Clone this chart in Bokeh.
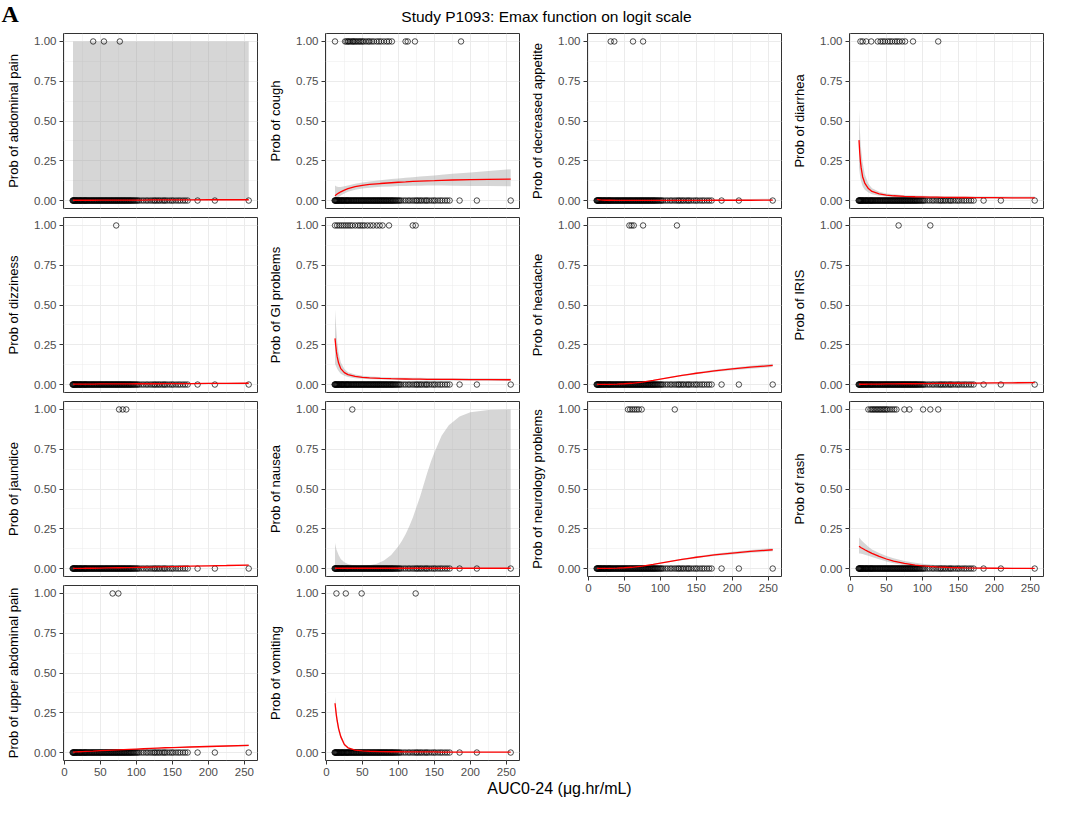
from bokeh.plotting import figure
from bokeh.layouts import row, column
from bokeh.models import Range1d, FixedTicker, Label, PrintfTickFormatter
from bokeh.embed import file_html
from bokeh.resources import INLINE

FONT = "Liberation Sans"

# ---------------- data ----------------
TITLE = "Study P1093: Emax function on logit scale"
XLABEL = "AUC0-24 (\u03bcg.hr/mL)"

X_TICKS = [0, 50, 100, 150, 200, 250]
X_MINOR = [25, 75, 125, 175, 225]
Y_TICKS = [0, 0.25, 0.5, 0.75, 1.0]
Y_MINOR = [0.125, 0.375, 0.625, 0.875]

# AUC of all subjects (observed 0 / 1 outcome plotted at these exposures)
AUC_ALL = [11.5, 12, 12.6, 13.1, 13.9, 14.5, 15.2, 16.0, 16.8, 17.5, 18.1, 19.0, 20.2, 21.0,
           21.6, 22.4, 23.3, 24.1, 25.0, 26.2, 27.0, 27.9, 28.6, 29.4, 30.3, 31.1, 32.0, 33.2,
           34.0, 35.1, 36.0, 37.2, 38.1, 39.0, 40.2, 41.0, 42.1, 43.0, 44.2, 45.1, 46.0, 47.3,
           48.1, 49.0, 50.2, 51.1, 52.0, 53.2, 54.0, 55.1, 56.3, 57.0, 58.2, 59.1, 60.0, 61.2,
           62.1, 63.0, 64.3, 65.1, 66.0, 67.2, 68.1, 69.0, 70.3, 71.1, 72.0, 73.2, 74.1, 75.0,
           76.2, 77.1, 78.0, 79.3, 80.1, 81.0, 82.4, 83.2, 84.0, 85.3, 86.1, 87.4, 88.2, 89.5,
           90.3, 91.6, 92.4, 93.7, 95.0, 96.2, 97.5, 99.0, 100.5, 102.0, 104.1, 107.3, 110.2,
           113.5, 116.0, 119.2, 122.0, 124.5, 126.3, 128.7, 131.0, 133.2, 136.1, 138.4, 140.2,
           143.0, 146.3, 149.1, 151.4, 155.0, 158.2, 161.0, 164.6, 167.8, 171.2, 185.0, 209.0,
           256.0]

# fitted curve evaluation points
X_FIT = [12, 13, 14, 15, 17, 20, 25, 30, 40, 50, 60, 75, 90, 100, 110, 120, 130, 140, 150,
         160, 175, 200, 225, 256]

# panel 1: abdominal pain
EV_ABD = [40, 55, 77]
FIT_ABD = [0.002, 0.002, 0.002, 0.002, 0.002, 0.002, 0.002, 0.002, 0.002, 0.003, 0.003, 0.003,
           0.003, 0.003, 0.003, 0.004, 0.004, 0.004, 0.004, 0.004, 0.004, 0.005, 0.005, 0.005]
LO_ABD = [0.0] * 24
HI_ABD = [1.0] * 24

# panel 2: cough
EV_COUGH = [12, 26, 28, 30, 31, 33, 35, 37, 38, 40, 42, 44, 46, 48, 50, 52, 55, 58, 60, 63, 66,
            70, 73, 76, 80, 84, 87, 91, 110, 113, 123, 187]
FIT_COUGH = [0.030, 0.034, 0.038, 0.041, 0.047, 0.055, 0.066, 0.075, 0.087, 0.095, 0.101, 0.107,
             0.112, 0.115, 0.117, 0.120, 0.122, 0.124, 0.125, 0.127, 0.129, 0.131, 0.133, 0.135]
LO_COUGH = [0.005, 0.008, 0.012, 0.016, 0.022, 0.032, 0.045, 0.055, 0.068, 0.076, 0.081, 0.086,
            0.089, 0.091, 0.092, 0.093, 0.093, 0.094, 0.094, 0.094, 0.093, 0.092, 0.091, 0.090]
HI_COUGH = [0.095, 0.092, 0.089, 0.087, 0.085, 0.085, 0.090, 0.095, 0.105, 0.113, 0.120, 0.128,
            0.135, 0.139, 0.143, 0.147, 0.151, 0.155, 0.158, 0.162, 0.168, 0.177, 0.186, 0.197]

# panel 3: decreased appetite
EV_APP = [31, 36, 62, 76]
FIT_APP = [0.008, 0.007, 0.006, 0.005, 0.004, 0.003, 0.002, 0.002, 0.001, 0.001, 0.001, 0.001,
           0.001, 0.001, 0.001, 0.001, 0.001, 0.001, 0.001, 0.001, 0.002, 0.002, 0.002, 0.003]
LO_APP = [0.0] * 24
HI_APP = [0.016, 0.014, 0.012, 0.010, 0.008, 0.007, 0.005, 0.004, 0.003, 0.003, 0.003, 0.003,
          0.003, 0.003, 0.004, 0.004, 0.004, 0.005, 0.005, 0.006, 0.007, 0.008, 0.010, 0.012]

# panel 4: diarrhea
EV_DIA = [14, 17, 22, 29, 38, 42, 45, 48, 52, 55, 58, 62, 65, 68, 72, 76, 87, 122]
FIT_DIA = [0.380, 0.300, 0.245, 0.205, 0.150, 0.110, 0.075, 0.057, 0.042, 0.034, 0.030, 0.026,
           0.024, 0.023, 0.022, 0.021, 0.020, 0.020, 0.019, 0.019, 0.018, 0.018, 0.017, 0.017]
LO_DIA = [0.210, 0.170, 0.140, 0.120, 0.090, 0.068, 0.050, 0.040, 0.030, 0.025, 0.022, 0.019,
          0.017, 0.016, 0.015, 0.015, 0.014, 0.014, 0.013, 0.013, 0.012, 0.012, 0.011, 0.011]
HI_DIA = [0.575, 0.460, 0.380, 0.320, 0.240, 0.165, 0.105, 0.078, 0.056, 0.045, 0.040, 0.034,
          0.031, 0.030, 0.029, 0.028, 0.027, 0.027, 0.026, 0.026, 0.025, 0.025, 0.025, 0.025]

# panel 5: dizziness
EV_DIZ = [72]
FIT_DIZ = [0.003, 0.003, 0.003, 0.003, 0.003, 0.003, 0.003, 0.003, 0.003, 0.004, 0.004, 0.004,
           0.004, 0.005, 0.005, 0.005, 0.005, 0.006, 0.006, 0.006, 0.006, 0.007, 0.007, 0.008]
LO_DIZ = [0.001, 0.001, 0.001, 0.001, 0.001, 0.001, 0.001, 0.001, 0.001, 0.002, 0.002, 0.002,
          0.002, 0.002, 0.002, 0.002, 0.002, 0.003, 0.003, 0.003, 0.003, 0.003, 0.003, 0.003]
HI_DIZ = [0.006, 0.006, 0.006, 0.006, 0.006, 0.006, 0.006, 0.006, 0.006, 0.007, 0.007, 0.007,
          0.007, 0.008, 0.008, 0.008, 0.008, 0.009, 0.009, 0.010, 0.010, 0.011, 0.012, 0.013]

# panel 6: GI problems
EV_GI = [12, 15, 18, 21, 24, 27, 30, 33, 36, 40, 44, 47, 50, 53, 57, 61, 65, 70, 74, 78, 87,
         120, 124]
FIT_GI = [0.290, 0.245, 0.205, 0.175, 0.135, 0.100, 0.075, 0.062, 0.051, 0.045, 0.042, 0.039,
          0.037, 0.036, 0.035, 0.034, 0.034, 0.033, 0.033, 0.032, 0.032, 0.031, 0.031, 0.030]
LO_GI = [0.130, 0.120, 0.110, 0.100, 0.085, 0.068, 0.055, 0.048, 0.040, 0.036, 0.034, 0.032,
         0.030, 0.029, 0.028, 0.027, 0.027, 0.026, 0.026, 0.025, 0.025, 0.024, 0.024, 0.023]
HI_GI = [0.470, 0.400, 0.330, 0.270, 0.200, 0.140, 0.098, 0.078, 0.063, 0.055, 0.051, 0.047,
         0.045, 0.044, 0.043, 0.042, 0.042, 0.041, 0.041, 0.040, 0.040, 0.039, 0.039, 0.038]

# panel 7: headache
EV_HEAD = [57, 60, 63, 76, 123]
FIT_HEAD = [0.0005, 0.0005, 0.0005, 0.0005, 0.0006, 0.0007, 0.001, 0.0015, 0.003, 0.005, 0.008,
            0.015, 0.026, 0.034, 0.042, 0.050, 0.057, 0.064, 0.071, 0.077, 0.086, 0.098, 0.109,
            0.120]
LO_HEAD = [0.0, 0.0, 0.0, 0.0, 0.0, 0.0, 0.0, 0.001, 0.002, 0.004, 0.007, 0.013, 0.023, 0.031,
           0.038, 0.046, 0.052, 0.059, 0.065, 0.071, 0.079, 0.090, 0.100, 0.110]
HI_HEAD = [0.001, 0.001, 0.001, 0.001, 0.001, 0.001, 0.002, 0.002, 0.004, 0.006, 0.009, 0.017,
           0.029, 0.037, 0.046, 0.054, 0.062, 0.069, 0.077, 0.083, 0.093, 0.106, 0.118, 0.130]

# panel 8: IRIS
EV_IRIS = [67, 111]
FIT_IRIS = [0.002, 0.002, 0.002, 0.002, 0.002, 0.002, 0.003, 0.003, 0.003, 0.004, 0.004, 0.005,
            0.005, 0.006, 0.006, 0.007, 0.007, 0.008, 0.008, 0.009, 0.009, 0.010, 0.011, 0.012]
LO_IRIS = [0.001, 0.001, 0.001, 0.001, 0.001, 0.001, 0.001, 0.001, 0.001, 0.002, 0.002, 0.002,
           0.002, 0.003, 0.003, 0.003, 0.003, 0.004, 0.004, 0.004, 0.004, 0.005, 0.005, 0.006]
HI_IRIS = [0.004, 0.004, 0.004, 0.004, 0.004, 0.004, 0.005, 0.005, 0.005, 0.006, 0.006, 0.007,
           0.008, 0.009, 0.009, 0.010, 0.011, 0.012, 0.012, 0.013, 0.014, 0.015, 0.017, 0.019]

# panel 9: jaundice
EV_JAU = [76, 81, 86]
FIT_JAU = [0.001, 0.001, 0.001, 0.001, 0.001, 0.001, 0.001, 0.002, 0.002, 0.003, 0.004, 0.005,
           0.006, 0.007, 0.008, 0.009, 0.010, 0.011, 0.012, 0.013, 0.015, 0.017, 0.019, 0.022]
LO_JAU = [0.0, 0.0, 0.0, 0.0, 0.0, 0.0, 0.0, 0.001, 0.001, 0.002, 0.003, 0.004, 0.005, 0.006,
          0.007, 0.008, 0.009, 0.010, 0.011, 0.012, 0.013, 0.015, 0.017, 0.019]
HI_JAU = [0.002, 0.002, 0.002, 0.002, 0.002, 0.002, 0.002, 0.003, 0.003, 0.004, 0.005, 0.006,
          0.007, 0.008, 0.009, 0.010, 0.011, 0.012, 0.013, 0.014, 0.017, 0.019, 0.021, 0.025]

# panel 10: nausea (own evaluation grid for the wide band)
X_NAU = [12, 14, 17, 20, 25, 30, 40, 50, 60, 70, 80, 90, 100, 105, 110, 115, 120, 125, 130, 135,
         140, 145, 150, 160, 170, 185, 200, 225, 256]
EV_NAU = [36]
FIT_NAU = [0.002] * 29
LO_NAU = [0.0] * 29
HI_NAU = [0.160, 0.120, 0.085, 0.060, 0.040, 0.028, 0.018, 0.016, 0.020, 0.030, 0.050, 0.085,
          0.140, 0.175, 0.215, 0.265, 0.320, 0.385, 0.450, 0.525, 0.600, 0.670, 0.730, 0.835,
          0.900, 0.955, 0.982, 0.996, 1.000]

# panel 11: neurology problems
EV_NEU = [55, 58, 61, 64, 67, 70, 74, 120]
FIT_NEU = [0.0005, 0.0005, 0.0005, 0.0005, 0.0006, 0.0007, 0.001, 0.0015, 0.003, 0.005, 0.008,
           0.015, 0.026, 0.034, 0.042, 0.050, 0.057, 0.064, 0.071, 0.077, 0.086, 0.097, 0.108,
           0.118]
LO_NEU = [0.0, 0.0, 0.0, 0.0, 0.0, 0.0, 0.0, 0.001, 0.002, 0.004, 0.007, 0.013, 0.023, 0.031,
          0.038, 0.046, 0.052, 0.059, 0.065, 0.071, 0.079, 0.089, 0.099, 0.108]
HI_NEU = [0.001, 0.001, 0.001, 0.001, 0.001, 0.001, 0.002, 0.002, 0.004, 0.006, 0.009, 0.017,
          0.029, 0.037, 0.046, 0.054, 0.062, 0.069, 0.077, 0.083, 0.093, 0.105, 0.117, 0.128]

# panel 12: rash
EV_RASH = [25, 28, 30, 32, 34, 36, 38, 40, 42, 44, 46, 48, 50, 52, 55, 58, 61, 64, 75, 82, 101,
           111, 122]
FIT_RASH = [0.140, 0.137, 0.134, 0.131, 0.126, 0.118, 0.106, 0.095, 0.076, 0.060, 0.047, 0.033,
            0.022, 0.017, 0.013, 0.010, 0.008, 0.006, 0.005, 0.004, 0.003, 0.002, 0.001, 0.001]
LO_RASH = [0.095, 0.095, 0.094, 0.093, 0.091, 0.087, 0.080, 0.073, 0.058, 0.044, 0.033, 0.021,
           0.012, 0.008, 0.005, 0.004, 0.003, 0.002, 0.001, 0.001, 0.0, 0.0, 0.0, 0.0]
HI_RASH = [0.195, 0.190, 0.185, 0.180, 0.170, 0.157, 0.137, 0.120, 0.097, 0.079, 0.064, 0.048,
           0.036, 0.030, 0.025, 0.021, 0.018, 0.015, 0.013, 0.011, 0.009, 0.007, 0.005, 0.004]

# panel 13: upper abdominal pain
EV_UAP = [67, 75]
FIT_UAP = [0.003, 0.003, 0.003, 0.004, 0.004, 0.005, 0.006, 0.007, 0.009, 0.012, 0.014, 0.017,
           0.020, 0.022, 0.024, 0.026, 0.028, 0.030, 0.031, 0.033, 0.035, 0.038, 0.041, 0.045]
LO_UAP = [0.002, 0.002, 0.002, 0.003, 0.003, 0.004, 0.005, 0.006, 0.008, 0.010, 0.012, 0.015,
          0.018, 0.020, 0.022, 0.024, 0.025, 0.027, 0.028, 0.030, 0.031, 0.034, 0.037, 0.040]
HI_UAP = [0.004, 0.004, 0.004, 0.005, 0.005, 0.006, 0.007, 0.008, 0.010, 0.014, 0.016, 0.019,
          0.022, 0.024, 0.026, 0.028, 0.031, 0.033, 0.034, 0.036, 0.039, 0.042, 0.045, 0.050]

# panel 14: vomiting
EV_VOM = [14, 27, 49, 124]
FIT_VOM = [0.310, 0.270, 0.230, 0.200, 0.150, 0.100, 0.050, 0.030, 0.015, 0.010, 0.008, 0.006,
           0.005, 0.005, 0.004, 0.004, 0.004, 0.004, 0.004, 0.003, 0.003, 0.003, 0.003, 0.003]
LO_VOM = [0.270, 0.235, 0.200, 0.172, 0.128, 0.085, 0.042, 0.025, 0.012, 0.008, 0.006, 0.004,
          0.004, 0.004, 0.003, 0.003, 0.003, 0.003, 0.003, 0.002, 0.002, 0.002, 0.002, 0.002]
HI_VOM = [0.350, 0.305, 0.260, 0.228, 0.172, 0.115, 0.058, 0.035, 0.018, 0.012, 0.010, 0.008,
          0.007, 0.006, 0.006, 0.005, 0.005, 0.005, 0.005, 0.005, 0.005, 0.005, 0.005, 0.005]

PANELS = [
    ("abdominal pain", EV_ABD, X_FIT, FIT_ABD, LO_ABD, HI_ABD),
    ("cough", EV_COUGH, X_FIT, FIT_COUGH, LO_COUGH, HI_COUGH),
    ("decreased appetite", EV_APP, X_FIT, FIT_APP, LO_APP, HI_APP),
    ("diarrhea", EV_DIA, X_FIT, FIT_DIA, LO_DIA, HI_DIA),
    ("dizziness", EV_DIZ, X_FIT, FIT_DIZ, LO_DIZ, HI_DIZ),
    ("GI problems", EV_GI, X_FIT, FIT_GI, LO_GI, HI_GI),
    ("headache", EV_HEAD, X_FIT, FIT_HEAD, LO_HEAD, HI_HEAD),
    ("IRIS", EV_IRIS, X_FIT, FIT_IRIS, LO_IRIS, HI_IRIS),
    ("jaundice", EV_JAU, X_FIT, FIT_JAU, LO_JAU, HI_JAU),
    ("nausea", EV_NAU, X_NAU, FIT_NAU, LO_NAU, HI_NAU),
    ("neurology problems", EV_NEU, X_FIT, FIT_NEU, LO_NEU, HI_NEU),
    ("rash", EV_RASH, X_FIT, FIT_RASH, LO_RASH, HI_RASH),
    ("upper abdominal pain", EV_UAP, X_FIT, FIT_UAP, LO_UAP, HI_UAP),
    ("vomiting", EV_VOM, X_FIT, FIT_VOM, LO_VOM, HI_VOM),
]
SHOW_X = [False, False, False, False, False, False, False, False, False, False, True, True,
          True, True]


def make_panel(name, events, xs, fit, lo, hi, show_x):
    p = figure(frame_width=194, frame_height=175,
               min_border_left=63, min_border_right=5, min_border_top=5, min_border_bottom=4,
               x_range=Range1d(-1.2, 268.2), y_range=Range1d(-0.05, 1.05),
               x_axis_location="below" if show_x else None,
               output_backend="svg", toolbar_location=None,
               background_fill_color="white", border_fill_color="white",
               outline_line_color="#333333", outline_line_width=1)
    for g in (p.xgrid, p.ygrid):
        g.grid_line_color = "#EBEBEB"
        g.grid_line_width = 1
        g.minor_grid_line_color = "#EBEBEB"
        g.minor_grid_line_width = 0.5
    p.xgrid.ticker = FixedTicker(ticks=X_TICKS, minor_ticks=X_MINOR)
    p.ygrid.ticker = FixedTicker(ticks=Y_TICKS, minor_ticks=Y_MINOR)

    axes = list(p.yaxis) + (list(p.xaxis) if show_x else [])
    for ax in axes:
        ax.axis_line_color = None
        ax.major_tick_line_color = "#333333"
        ax.major_tick_out = 4
        ax.major_tick_in = 0
        ax.minor_tick_line_color = None
        ax.major_label_text_font = FONT
        ax.major_label_text_font_size = "11.5px"
        ax.major_label_text_color = "#4D4D4D"
        ax.major_label_standoff = 3
    p.yaxis.ticker = FixedTicker(ticks=Y_TICKS)
    p.yaxis.formatter = PrintfTickFormatter(format="%.2f")
    p.yaxis.axis_label = "Prob of " + name
    p.yaxis.axis_label_text_font = FONT
    p.yaxis.axis_label_text_font_size = "13px"
    p.yaxis.axis_label_text_font_style = "normal"
    p.yaxis.axis_label_text_color = "black"
    p.yaxis.axis_label_standoff = 10
    if show_x:
        p.xaxis.ticker = FixedTicker(ticks=X_TICKS)

    p.varea(x=xs, y1=lo, y2=hi, fill_color="#999999", fill_alpha=0.4)
    p.scatter(AUC_ALL, [0] * len(AUC_ALL), marker="circle", size=5.5,
              fill_color=None, line_color="black", line_width=0.7)
    p.scatter(events, [1] * len(events), marker="circle", size=5.5,
              fill_color=None, line_color="black", line_width=0.7)
    p.line(xs, fit, line_color="#FF0000", line_width=1.3)
    return p


figs = [make_panel(n, e, x, f, l, h, s) for (n, e, x, f, l, h), s in zip(PANELS, SHOW_X)]

W = 1048


def text_strip(height):
    f = figure(width=W, height=height, x_range=Range1d(0, W), y_range=Range1d(0, height),
               x_axis_location=None, y_axis_location=None, min_border=0,
               output_backend="svg", toolbar_location=None, outline_line_color=None,
               background_fill_color="white", border_fill_color="white")
    f.xgrid.visible = False
    f.ygrid.visible = False
    return f


HEADER_H = 28
header = text_strip(HEADER_H)
header.add_layout(Label(x=546, y=HEADER_H / 2 - 2, text=TITLE, text_font=FONT,
                        text_font_size="15.5px", text_align="center",
                        text_baseline="middle", text_color="black"))
header.add_layout(Label(x=1, y=HEADER_H / 2 + 1, text="A", text_font="Liberation Serif",
                        text_font_size="24px", text_font_style="bold",
                        text_align="left", text_baseline="middle", text_color="black"))

footer = text_strip(22)
footer.add_layout(Label(x=559, y=12, text=XLABEL, text_font=FONT, text_font_size="16px",
                        text_align="center", text_baseline="middle", text_color="black"))

grid = row(column(figs[0], figs[4], figs[8], figs[12]),
           column(figs[1], figs[5], figs[9], figs[13]),
           column(figs[2], figs[6], figs[10]),
           column(figs[3], figs[7], figs[11]))

page = column(header, grid, footer)

open("out.html", "w").write(file_html(page, INLINE))
